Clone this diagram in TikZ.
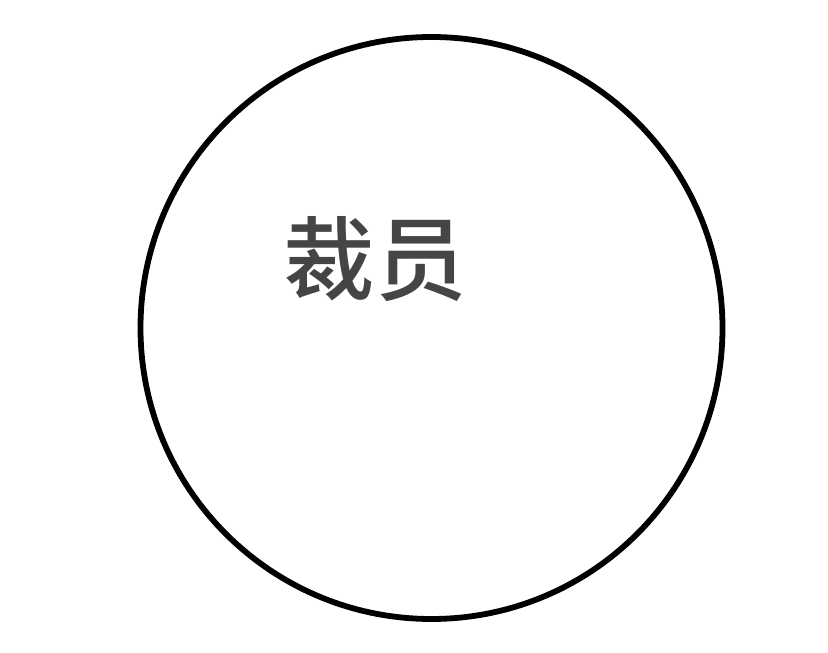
\documentclass[tikz,border=0pt]{standalone}
\usepackage{fontspec}
\newfontfamily\cjk{Noto Sans CJK SC Medium}
\definecolor{labelgray}{HTML}{454545}

\begin{document}
\begin{tikzpicture}[x=1cm,y=1cm]
        \useasboundingbox (0,0) rectangle (8.28,6.52);

        \coordinate (O) at (4.315,3.24);
        \draw[line width=0.058cm] (O) circle (2.91);

        \node[text=labelgray, font=\cjk\fontsize{26}{30}\selectfont] (layoff) at (3.75,3.93) {裁员};

    \end{tikzpicture}
\end{document}
